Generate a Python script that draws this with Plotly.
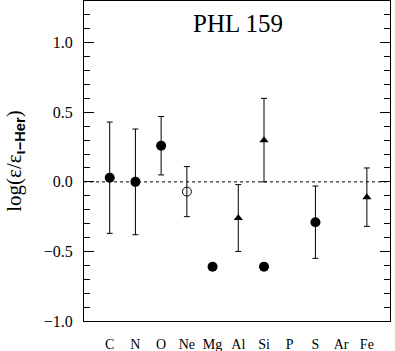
import plotly.graph_objects as go

# element axis
elements = ['C', 'N', 'O', 'Ne', 'Mg', 'Al', 'Si', 'P', 'S', 'Ar', 'Fe']
positions = list(range(1, len(elements) + 1))

# filled circles
fill_el = ['C', 'N', 'O', 'Mg', 'Si', 'S']
fill_val = [0.03, 0.00, 0.26, -0.61, -0.61, -0.29]
fill_err = [0.40, 0.38, 0.21, None, None, 0.26]

# open circle
open_el = ['Ne']
open_val = [-0.07]
open_err = [0.18]

# triangles
tri_el = ['Al', 'Si', 'Fe']
tri_val = [-0.26, 0.30, -0.11]
tri_err = [0.24, 0.30, 0.21]

pos = dict(zip(elements, positions))
font = 'Liberation Serif'

def err(a):
    return dict(type='data', array=a, visible=True, color='black',
                thickness=1, width=3)

data = []
data.append(go.Scatter(x=[pos[e] for e in fill_el], y=fill_val, mode='markers',
                       marker=dict(symbol='circle', size=10, color='black'),
                       error_y=err(fill_err)))
data.append(go.Scatter(x=[pos[e] for e in open_el], y=open_val, mode='markers',
                       marker=dict(symbol='circle-open', size=9, color='black',
                                   line=dict(width=1)),
                       error_y=err(open_err)))
data.append(go.Scatter(x=[pos[e] for e in tri_el], y=tri_val, mode='markers',
                       marker=dict(symbol='triangle-up', size=8, color='black'),
                       error_y=err(tri_err)))

ylabel = ('log(ε/ε<sub><span style="font-family:Liberation Sans"><b>ι−Her</b>'
          '</span></sub>)')

layout = dict(
    width=395, height=351,
    margin=dict(l=84, r=5, t=1, b=30),
    plot_bgcolor='white', paper_bgcolor='white',
    showlegend=False,
    font=dict(family=font, color='black', size=14),
    xaxis=dict(range=[0, 11.9], tickvals=positions, ticktext=elements,
               ticks='', showgrid=False, zeroline=False, automargin=False,
               showline=True, linecolor='black', linewidth=1, mirror=True,
               tickfont=dict(family=font, size=14), ticklabelstandoff=10),
    yaxis=dict(range=[-1.0, 1.3], tickvals=[-1.0, -0.5, 0.0, 0.5, 1.0],
               tickformat='.1f', ticks='inside', ticklen=10, tickcolor='black',
               minor=dict(ticks='inside', ticklen=6, dtick=0.1, tickcolor='black'),
               showgrid=False, zeroline=False, automargin=False,
               showline=True, linecolor='black', linewidth=1, mirror='ticks',
               tickfont=dict(family=font, size=16), ticklabelstandoff=7,
               title=dict(text=ylabel, font=dict(family=font, size=21),
                          standoff=16)),
    shapes=[dict(type='line', xref='paper', x0=0, x1=1, yref='y', y0=0, y1=0,
                 line=dict(color='black', width=1, dash='3px,3px'), layer='below')],
    annotations=[dict(text='PHL 159', x=6, y=1.14, xref='x', yref='y',
                      showarrow=False, font=dict(family=font, size=25))],
)

fig = go.Figure(data=data, layout=layout)
# drop the default page margin so the figure sits at the top-left corner
fig.write_html('out.html', config={'displayModeBar': False},
               post_script="document.body.style.margin='0';")
